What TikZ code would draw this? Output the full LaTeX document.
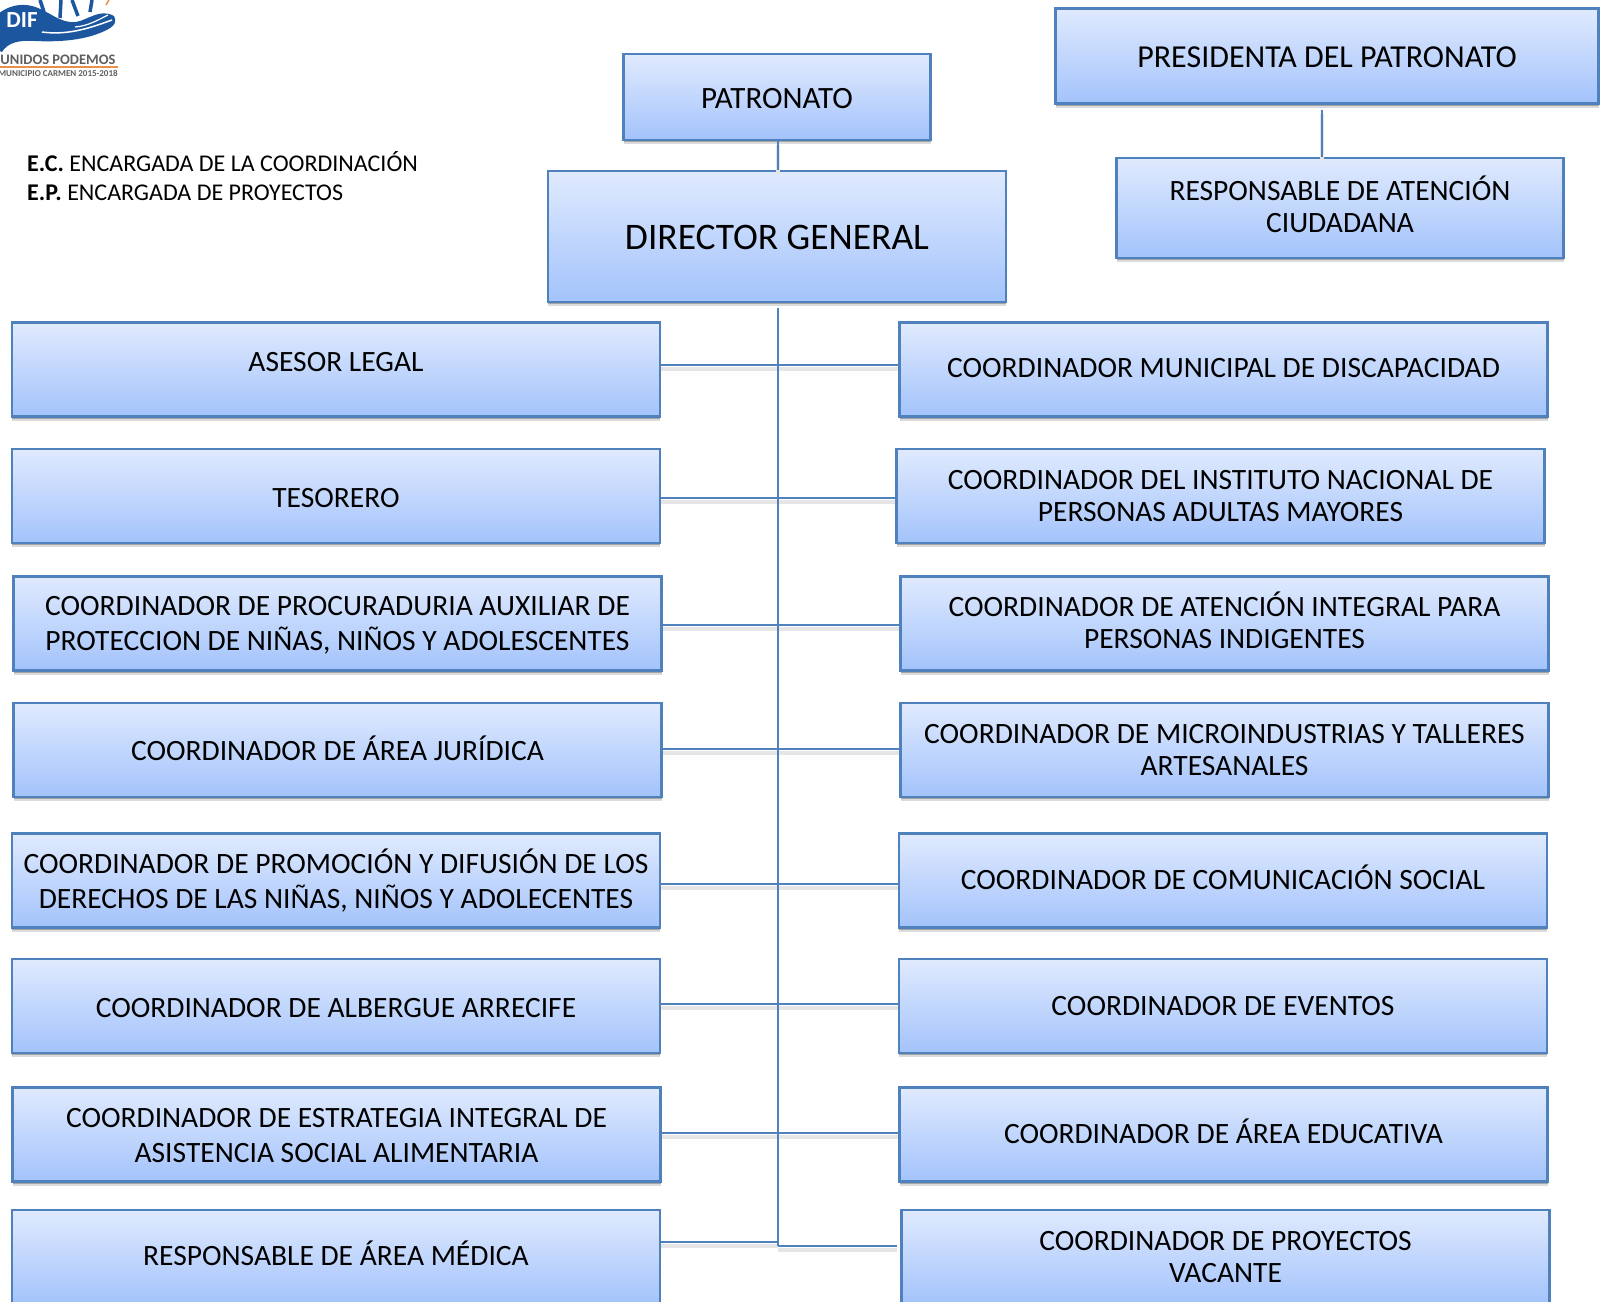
\documentclass[tikz,border=0pt]{standalone}
\usepackage{xcolor}
\usepackage{fontspec}
\setmainfont{Carlito}
\usepackage{tikz}
\usetikzlibrary{calc}
\usetikzlibrary{shadows}
\definecolor{boxtop}{HTML}{E0EAFE}
\definecolor{boxbot}{HTML}{A3C3FB}
\definecolor{boxline}{HTML}{4F81BD}
\definecolor{logoblue}{HTML}{1B569E}
\definecolor{logogray}{HTML}{5E5E5E}
\definecolor{logoorange}{HTML}{E9904A}
\tikzstyle{box} = [rectangle, draw = boxline, line width = 2.2pt, top color = boxtop, bottom color = boxbot, align = center, inner sep = 0, text = black, minimum width = 648, minimum height = 94, font = \fontsize{29.5}{32}\selectfont, drop shadow = {shadow xshift = 0pt, shadow yshift = -4pt, opacity = 0.14, fill = black}, drop shadow = {shadow xshift = 0pt, shadow yshift = -2pt, opacity = 0.25, fill = black}]
\tikzstyle{wide} = [font = \fontsize{29.5}{35}\selectfont]
\tikzstyle{single} = [text height = 19, text depth = 0]
\tikzstyle{link} = [-, draw = boxline, line width = 2.2pt, preaction = {draw = black!10, line width = 4pt, transform canvas = {yshift = -4pt}}]
\begin{document}
\begin{tikzpicture}[x = 1pt, y = -1pt]
\useasboundingbox (0, 0) rectangle (1600, 1301);
% logo
\fill [logoblue] (-2, 14) .. controls (8, 6) and (20, 3) .. (32, 6) .. controls (48, 10) and (60, 24) .. (76, 22) .. controls (88, 20) and (100, 8) .. (114, 16) .. controls (118, 24) and (112, 28) .. (100, 33) .. controls (80, 41) and (55, 42) .. (35, 41) .. controls (20, 40) and (8, 42) .. (2, 52) -- (-2, 50) -- cycle;
\draw [white, line width = 1.5pt] (42, 32) .. controls (70, 36) and (95, 26) .. (112, 20);
\draw [white, line width = 1.2pt] (75, 27) .. controls (88, 26) and (98, 20) .. (108, 15);
\draw [logoblue, line width = 3.5pt] (44, 12) to (40, 0);
\draw [logoblue, line width = 3.5pt] (60, 18) to (61, 0);
\draw [logoblue, line width = 3.5pt] (78, 16) to (72, 0);
\draw [logoblue, line width = 3.5pt] (90, 12) to (92, 0);
\draw [logoorange, line width = 1.5pt] (109, 0) to (106, 5);
\node [inner sep = 0, text = white, font = \fontsize{23}{23}\selectfont\bfseries] (DIF) at (22, 20) {DIF};
\node [inner sep = 0, text = logogray, font = \fontsize{14.5}{14.5}\selectfont\bfseries] (UNIDOS) at (58, 60) {UNIDOS PODEMOS};
\draw [logoorange, line width = 1.2pt] (0, 67) to (118, 67);
\node [inner sep = 0, text = logogray, font = \fontsize{9}{9}\selectfont\bfseries] (MUNICIPIO) at (58, 73) {MUNICIPIO CARMEN 2015-2018};
% legend
\node [inner sep = 0, anchor = north west, align = left, font = \fontsize{24}{29}\selectfont] (LEGEND) at (27, 151) {\textbf{E.C.} ENCARGADA DE LA COORDINACIÓN\\\textbf{E.P.} ENCARGADA DE PROYECTOS};
% top boxes
\node [box, minimum width = 307, minimum height = 86, font = \fontsize{31}{36}\selectfont, text height = 22, text depth = 0] (PAT) at (777, 97) {PATRONATO};
\node [box, minimum width = 458, minimum height = 131, font = \fontsize{37.5}{42}\selectfont, text height = 26, text depth = 0] (DIR) at (777, 236.5) {DIRECTOR GENERAL};
\node [box, minimum width = 543, minimum height = 95, font = \fontsize{32}{36}\selectfont, text height = 23, text depth = 0] (PRES) at (1327, 56) {PRESIDENTA DEL PATRONATO};
\node [box, minimum width = 447, minimum height = 100, text depth = 7] (RESP) at (1340, 208) {RESPONSABLE DE ATENCIÓN\\CIUDADANA};
% left column
\node [box, text height = 19, text depth = 16] (L1) at (336, 369.5) {ASESOR LEGAL};
\node [box, text height = 23, text depth = 0] (L2) at (336, 496) {TESORERO};
\node [box, wide, text height = 58] (L3) at (337.5, 623.5) {COORDINADOR DE PROCURADURIA AUXILIAR DE\\PROTECCION DE NIÑAS, NIÑOS Y ADOLESCENTES};
\node [box, text height = 21, text depth = 0] (L4) at (337.5, 750) {COORDINADOR DE ÁREA JURÍDICA};
\node [box, wide] (L5) at (336, 880.5) {COORDINADOR DE PROMOCIÓN Y DIFUSIÓN DE LOS\\DERECHOS DE LAS NIÑAS, NIÑOS Y ADOLECENTES};
\node [box, text height = 23, text depth = 0] (L6) at (336, 1006) {COORDINADOR DE ALBERGUE ARRECIFE};
\node [box, wide, text height = 56] (L7) at (336.5, 1134.5) {COORDINADOR DE ESTRATEGIA INTEGRAL DE\\ASISTENCIA SOCIAL ALIMENTARIA};
\node [box, text height = 19, text depth = 2] (L8) at (336, 1257) {RESPONSABLE DE ÁREA MÉDICA};
% right column
\node [box, text height = 19, text depth = 4] (R1) at (1223.5, 369.5) {COORDINADOR MUNICIPAL DE DISCAPACIDAD};
\node [box] (R2) at (1220.5, 496) {COORDINADOR DEL INSTITUTO NACIONAL DE\\PERSONAS ADULTAS MAYORES};
\node [box, text depth = 6] (R3) at (1224.5, 623.5) {COORDINADOR DE ATENCIÓN INTEGRAL PARA\\PERSONAS INDIGENTES};
\node [box] (R4) at (1224.5, 750) {COORDINADOR DE MICROINDUSTRIAS Y TALLERES\\ARTESANALES};
\node [box, text height = 19, text depth = 2] (R5) at (1223, 880.5) {COORDINADOR DE COMUNICACIÓN SOCIAL};
\node [box, single] (R6) at (1223, 1006) {COORDINADOR DE EVENTOS};
\node [box, text height = 19, text depth = 2] (R7) at (1223.5, 1134.5) {COORDINADOR DE ÁREA EDUCATIVA};
\node [box] (R8) at (1225.5, 1257) {COORDINADOR DE PROYECTOS\\VACANTE};
% free ends
\coordinate (T0) at (778, 308);
\coordinate (T1) at (778, 365);
\coordinate (T2) at (778, 498);
\coordinate (T3) at (778, 625);
\coordinate (T4) at (778, 749);
\coordinate (T5) at (778, 884);
\coordinate (T6) at (778, 1004);
\coordinate (T7) at (778, 1133);
\coordinate (T8) at (778, 1242);
\coordinate (T9) at (778, 1246);
\coordinate (E9) at (897, 1246);
\coordinate (P0) at (1322, 110);
\draw [link] (PAT.south -| T0) to (DIR.north -| T0);
\draw [link] (P0) to (RESP.north -| P0);
\draw [link] (L1.east |- T1) to (R1.west |- T1);
\draw [link] (L2.east |- T2) to (R2.west |- T2);
\draw [link] (L3.east |- T3) to (R3.west |- T3);
\draw [link] (L4.east |- T4) to (R4.west |- T4);
\draw [link] (L5.east |- T5) to (R5.west |- T5);
\draw [link] (L6.east |- T6) to (R6.west |- T6);
\draw [link] (L7.east |- T7) to (R7.west |- T7);
\draw [link] (L8.east |- T8) to (T8);
\draw [link] (T9) to (E9);
\draw [draw = boxline, line width = 2.2pt] (T0) to (T9);
\end{tikzpicture}
\end{document}
